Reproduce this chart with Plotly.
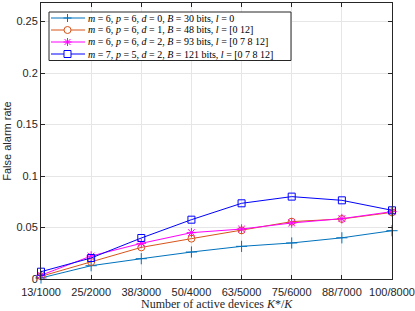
import plotly.graph_objects as go

categories = ["13/1000", "25/2000", "38/3000", "50/4000", "63/5000", "75/6000", "88/7000", "100/8000"]
s1 = [0.0010, 0.0129, 0.0197, 0.0262, 0.0317, 0.0350, 0.0400, 0.0469]
s2 = [0.0026, 0.0165, 0.0307, 0.0392, 0.0472, 0.0557, 0.0583, 0.0647]
s3 = [0.0036, 0.0223, 0.0346, 0.0450, 0.0485, 0.0544, 0.0586, 0.0654]
s4 = [0.0071, 0.0204, 0.0398, 0.0576, 0.0735, 0.0800, 0.0764, 0.0667]
names = [
    "<i>m</i> = 6, <i>p</i> = 6, <i>d</i> = 0, <i>B</i> = 30 bits, <i>l</i> = 0",
    "<i>m</i> = 6, <i>p</i> = 6, <i>d</i> = 1, <i>B</i> = 48 bits, <i>l</i> = [0 12]",
    "<i>m</i> = 6, <i>p</i> = 6, <i>d</i> = 2, <i>B</i> = 93 bits, <i>l</i> = [0 7 8 12]",
    "<i>m</i> = 7, <i>p</i> = 5, <i>d</i> = 2, <i>B</i> = 121 bits, <i>l</i> = [0 7 8 12]",
]
x_title = "Number of active devices <i>K</i>*/<i>K</i>"
y_title = "False alarm rate"
yticks = [0, 0.05, 0.1, 0.15, 0.2, 0.25]
yticklabels = ["0", "0.05", "0.1", "0.15", "0.2", "0.25"]

colors = ["#0072BD", "#D95319", "#FF00FF", "#0000FF"]
symbols = ["cross-thin-open", "circle-open", "asterisk-open", "square-open"]
sizes = [8, 7, 8, 7]

fig = go.Figure()
for ys, nm, c, sym, sz in zip([s1, s2, s3, s4], names, colors, symbols, sizes):
    fig.add_trace(go.Scatter(
        x=categories, y=ys, name=nm, mode="lines+markers",
        line=dict(color=c, width=1),
        marker=dict(symbol=sym, size=sz, color=c, line=dict(color=c, width=1)),
        cliponaxis=False, showlegend=False,
    ))

# ---- compact legend (box, line samples, marker glyphs, labels) ----
PX_L, PX_W, PX_B, PX_H = 41, 351, 279, 276  # plot area in pixels
def xp(px):
    return (px - PX_L) / PX_W
def yp(py):
    return (PX_B - py) / PX_H

fig.add_shape(type="rect", xref="paper", yref="paper",
              x0=xp(49), x1=xp(291), y0=yp(60.5), y1=yp(12),
              fillcolor="white", line=dict(color="#262626", width=1), layer="above")

marker_paths = {
    "cross-thin-open": "M-4,0H4M0,-4V4",
    "asterisk-open": "M-4,0H4M0,-4V4M-3,-3L3,3M-3,3L3,-3",
}
row_py = [18, 30, 42, 54]
for i, (nm, c, sym) in enumerate(zip(names, colors, symbols)):
    ry = yp(row_py[i])
    fig.add_shape(type="line", xref="paper", yref="paper",
                  x0=xp(51), x1=xp(85), y0=ry, y1=ry,
                  line=dict(color=c, width=1), layer="above")
    mx = xp(67.5)
    if sym == "circle-open":
        fig.add_shape(type="circle", xref="paper", yref="paper",
                      xsizemode="pixel", ysizemode="pixel", xanchor=mx, yanchor=ry,
                      x0=-3.5, x1=3.5, y0=-3.5, y1=3.5,
                      fillcolor="white", line=dict(color=c, width=1), layer="above")
    elif sym == "square-open":
        fig.add_shape(type="rect", xref="paper", yref="paper",
                      xsizemode="pixel", ysizemode="pixel", xanchor=mx, yanchor=ry,
                      x0=-3.5, x1=3.5, y0=-3.5, y1=3.5,
                      fillcolor="white", line=dict(color=c, width=1), layer="above")
    else:
        fig.add_shape(type="path", xref="paper", yref="paper",
                      xsizemode="pixel", ysizemode="pixel", xanchor=mx, yanchor=ry,
                      path=marker_paths[sym],
                      line=dict(color=c, width=1), layer="above")
    fig.add_annotation(xref="paper", yref="paper", x=xp(86), y=ry,
                       xanchor="left", yanchor="middle", showarrow=False,
                       text=nm, font=dict(family="Liberation Serif, Times New Roman",
                                          size=10, color="black"))

# x-axis title placed as annotation (exact vertical position)
fig.add_annotation(xref="paper", yref="paper", x=0.5, y=yp(295.8),
                   xanchor="center", yanchor="top", showarrow=False, borderpad=0,
                   text=x_title, font=dict(family="Liberation Serif, Times New Roman",
                                           size=12, color="#262626"))

axis_common = dict(
    showline=True, linecolor="#262626", linewidth=1, mirror="ticks",
    ticks="inside", ticklen=4, tickcolor="#262626",
    showgrid=True, gridcolor="#E6E6E6", gridwidth=1, zeroline=False,
    automargin=False,
    tickfont=dict(family="Liberation Sans, Arial", size=11, color="#262626"),
)

fig.update_layout(
    width=415, height=311,
    margin=dict(l=41, r=23, t=3, b=32),
    paper_bgcolor="white", plot_bgcolor="white",
    showlegend=False,
    xaxis=dict(
        **axis_common, type="category", range=[0, 7], ticklabelstandoff=3,
    ),
    yaxis=dict(
        **axis_common, range=[0, 0.268],
        tickvals=yticks, ticktext=yticklabels,
        title=dict(text=y_title,
                   font=dict(family="Liberation Sans, Arial", size=11, color="#262626"),
                   standoff=2),
    ),
)

fig.write_html("out.html", config={"displayModeBar": False},
               post_script="document.body.style.margin='0';")
